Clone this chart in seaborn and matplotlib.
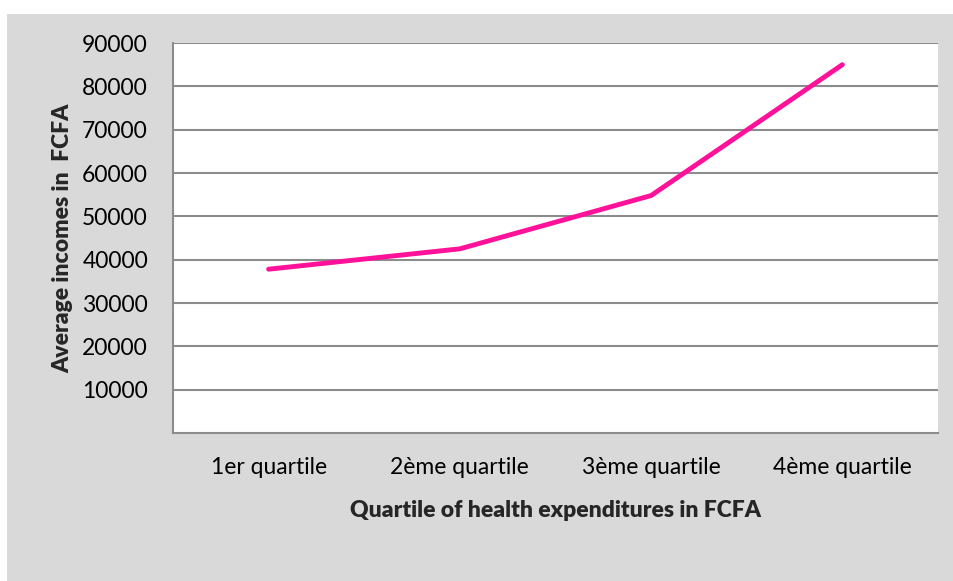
import matplotlib
matplotlib.use("Agg")
import matplotlib.pyplot as plt
import pandas as pd
import seaborn as sns
from matplotlib.patches import Rectangle

sns.set_theme(style="white")
plt.rcParams["font.family"] = ["Lato", "DejaVu Sans"]

# ── Data ───────────────────────────────────────────────────────────────────
quartiles = ["1er quartile", "2ème quartile", "3ème quartile", "4ème quartile"]
avg_income = [37800, 42500, 54800, 85000]
y_ticks = [10000, 20000, 30000, 40000, 50000, 60000, 70000, 80000, 90000]

df = pd.DataFrame({"quartile": quartiles, "income": avg_income})

W, H = 954, 581
fig = plt.figure(figsize=(W / 100, H / 100), dpi=100)
fig.patch.set_facecolor("white")
# grey chart area, with a thin white margin on the top and left
fig.patches.append(Rectangle((7 / W, 0), 1 - 7 / W, 1 - 14 / H,
                             transform=fig.transFigure, facecolor="#d9d9d9",
                             edgecolor="none", zorder=-10))

ax = fig.add_axes([173 / W, 1 - 433 / H, 765 / W, 390 / H])
ax.set_facecolor("white")

sns.lineplot(data=df, x="quartile", y="income", color="#ff1199",
             linewidth=3.5, sort=False, ax=ax, zorder=3)
ax.lines[0].set_solid_capstyle("round")

ax.set_xlim(-0.5, len(quartiles) - 0.5)
ax.set_ylim(0, 90000)
ax.set_yticks(y_ticks)
ax.set_yticklabels([str(v) for v in y_ticks])
ax.yaxis.grid(True, color="#8c8c8c", linewidth=1.5)
ax.set_axisbelow(True)

for side in ["top", "right"]:
    ax.spines[side].set_visible(False)
for side in ["left", "bottom"]:
    ax.spines[side].set_color("#8c8c8c")
    ax.spines[side].set_linewidth(1.5)

ax.tick_params(axis="y", length=0, pad=18, labelsize=16.5, labelcolor="black")
ax.tick_params(axis="x", length=0, pad=17, labelsize=16.5, labelcolor="black")

ax.set_xlabel("Quartile of health expenditures in FCFA", fontsize=16.5,
              fontweight="heavy", labelpad=16)
ax.set_ylabel("Average incomes in  FCFA", fontsize=16.5, fontweight="heavy",
              labelpad=6)

fig.savefig("out.png", dpi=100, facecolor=fig.get_facecolor())
